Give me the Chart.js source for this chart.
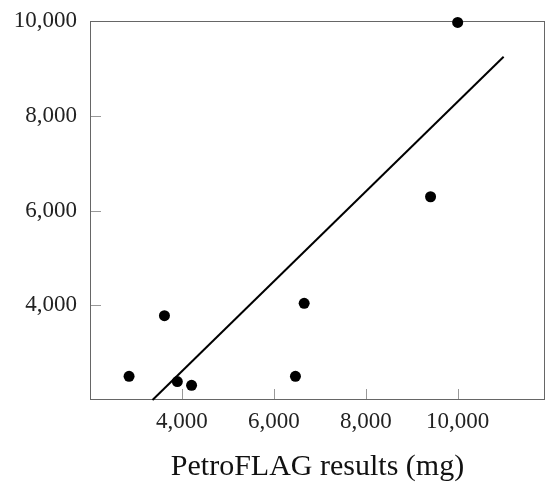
<!DOCTYPE html>
<html>
<head>
<meta charset="utf-8">
<script src="https://cdn.jsdelivr.net/npm/chart.js@4"></script>
<style>
  html, body { margin: 0; padding: 0; background: #fff; }
</style>
</head>
<body>
<canvas id="chart" width="546" height="488"></canvas>
<script>
// PetroFLAG field results vs lab results
const petroflag = [2850, 3620, 3900, 4210, 6470, 6660, 9410, 10000];
const labResults = [2500, 3780, 2390, 2310, 2500, 4040, 6290, 9970];

// regression line end points
const fitX = [3360, 11000];
const fitY = [2000, 9245];

const xTicks = [4000, 6000, 8000, 10000];
const yTicks = [4000, 6000, 8000, 10000];

const serif = "'Liberation Serif', 'Times New Roman', serif";

// box round the plot area + short inward tick marks
const boxPlugin = {
  id: 'box',
  beforeDatasetsDraw(chart) {
    const { ctx, chartArea: a, scales } = chart;
    ctx.save();
    ctx.strokeStyle = '#999';
    ctx.lineWidth = 1;
    ctx.beginPath();
    scales.x.ticks.forEach(t => {
      const px = Math.round(scales.x.getPixelForValue(t.value)) + 0.5;
      ctx.moveTo(px, a.bottom);
      ctx.lineTo(px, a.bottom - 11);
    });
    scales.y.ticks.forEach(t => {
      const py = Math.round(scales.y.getPixelForValue(t.value)) + 0.5;
      ctx.moveTo(a.left, py);
      ctx.lineTo(a.left + 11, py);
    });
    ctx.stroke();
    ctx.strokeStyle = '#666';
    ctx.strokeRect(a.left + 0.5, a.top + 0.5, a.right - a.left - 1, a.bottom - a.top - 1);
    ctx.restore();
  }
};

new Chart(document.getElementById('chart'), {
  type: 'scatter',
  data: {
    datasets: [
      {
        type: 'line',
        data: fitX.map((x, i) => ({ x, y: fitY[i] })),
        borderColor: '#000',
        borderWidth: 2,
        pointRadius: 0,
        fill: false,
        clip: false
      },
      {
        data: petroflag.map((x, i) => ({ x, y: labResults[i] })),
        backgroundColor: '#000',
        borderWidth: 0,
        pointRadius: 5.5,
        clip: false
      }
    ]
  },
  options: {
    responsive: false,
    animation: false,
    layout: { autoPadding: false, padding: { top: 21, right: 1, left: 0, bottom: 0 } },
    plugins: { legend: { display: false }, tooltip: { enabled: false } },
    scales: {
      x: {
        type: 'linear',
        min: 2000,
        max: 11900,
        afterFit(scale) {
          scale.height = 88;
          scale.paddingLeft = 0;
          scale.paddingRight = 0;
        },
        afterBuildTicks(scale) { scale.ticks = xTicks.map(v => ({ value: v })); },
        grid: { display: false, drawTicks: false },
        border: { display: false },
        ticks: {
          padding: 8,
          color: '#222',
          font: { family: serif, size: 23 },
          callback: v => v.toLocaleString('en-US')
        },
        title: {
          display: true,
          text: 'PetroFLAG results (mg)',
          color: '#111',
          font: { family: serif, size: 30 },
          padding: { top: 0, bottom: 3 }
        }
      },
      y: {
        type: 'linear',
        min: 2000,
        max: 10000,
        afterFit(scale) {
          scale.width = 90;
          scale.paddingTop = 0;
          scale.paddingBottom = 0;
        },
        afterBuildTicks(scale) { scale.ticks = yTicks.map(v => ({ value: v })); },
        grid: { display: false, drawTicks: false },
        border: { display: false },
        ticks: {
          padding: 13,
          color: '#222',
          font: { family: serif, size: 23 },
          callback: v => v.toLocaleString('en-US')
        }
      }
    }
  },
  plugins: [boxPlugin]
});
</script>
</body>
</html>
